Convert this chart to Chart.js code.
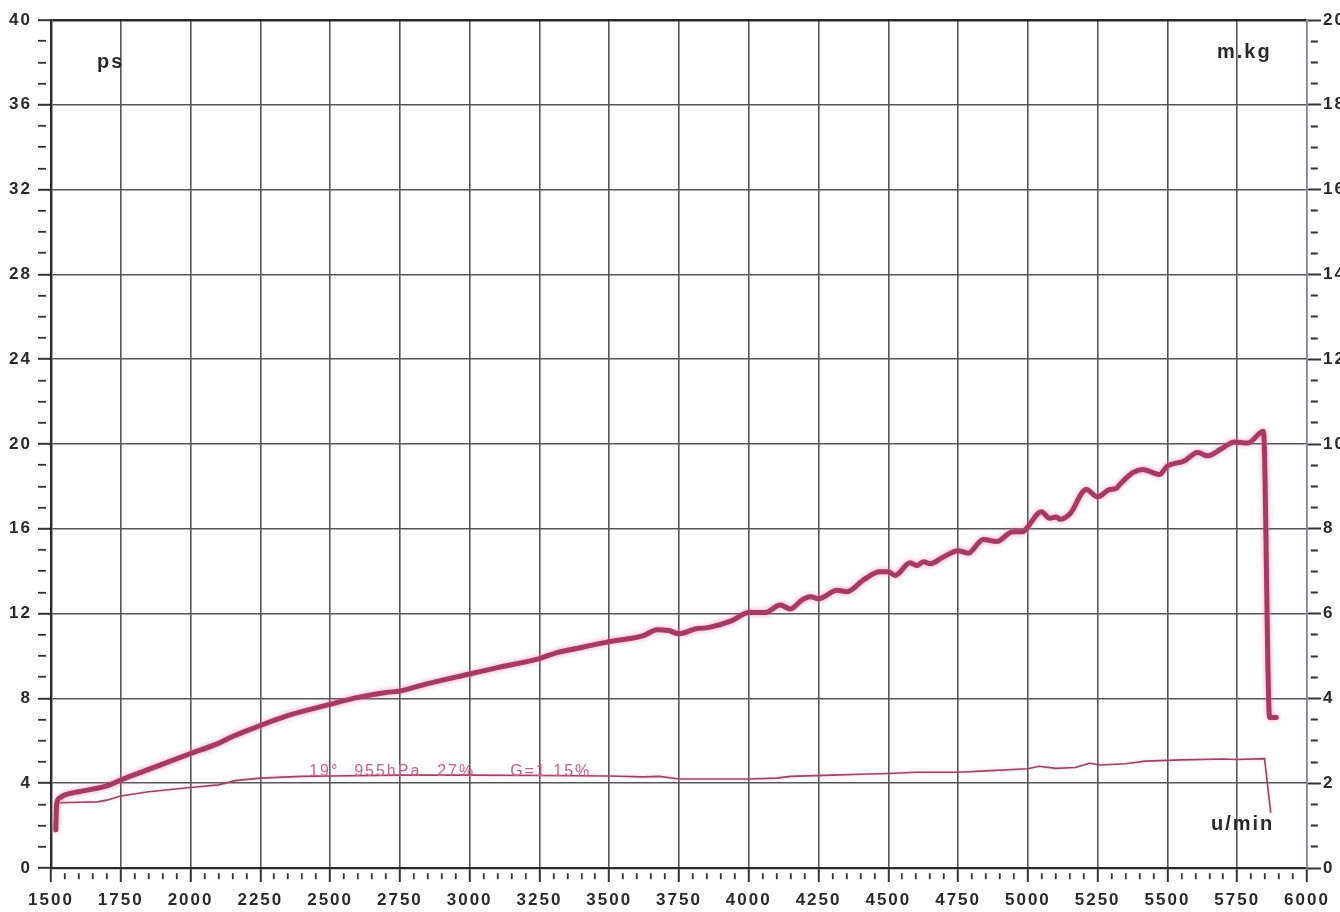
<!DOCTYPE html>
<html><head><meta charset="utf-8">
<script src="https://cdn.jsdelivr.net/npm/chart.js@4.4.0/dist/chart.umd.min.js"></script>
<style>html,body{margin:0;padding:0;background:#fff;overflow:hidden}#wrap{width:1340px;height:912px;position:relative;background:#fff}</style>
</head><body><div id="wrap"><canvas id="c" width="1340" height="912"></canvas></div>
<script>
// ---- data ----
const rpmPower = [1517,1520,1530,1550,1600,1650,1700,1750,1850,2000,2100,2150,2250,2350,2500,2600,2700,2750,2850,3000,3100,3250,3310,3400,3500,3620,3672,3713,3750,3810,3858,3940,4000,4059,4113,4149,4191,4220,4250,4316,4352,4412,4470,4500,4524,4578,4602,4626,4650,4697,4750,4786,4840,4888,4946,4982,5000,5048,5078,5102,5114,5150,5209,5250,5292,5316,5330,5376,5412,5447,5471,5500,5560,5608,5644,5692,5740,5788,5844,5866,5890];
const powerPs = [1.8,3.0,3.3,3.45,3.6,3.72,3.87,4.15,4.65,5.4,5.88,6.2,6.72,7.2,7.72,8.05,8.28,8.35,8.7,9.15,9.45,9.88,10.15,10.4,10.68,10.95,11.24,11.2,11.05,11.28,11.35,11.67,12.05,12.05,12.4,12.22,12.65,12.8,12.7,13.1,13.03,13.6,13.97,13.97,13.8,14.4,14.27,14.45,14.35,14.67,14.97,14.85,15.5,15.4,15.86,15.86,16.1,16.8,16.5,16.56,16.45,16.7,17.85,17.5,17.85,17.9,18.1,18.65,18.8,18.65,18.56,18.96,19.2,19.6,19.44,19.76,20.1,20.05,20.6,7.1,7.1];
const rpmTorque = [1529,1600,1667,1700,1750,1850,2000,2100,2160,2250,2400,2500,2750,3000,3250,3500,3620,3680,3750,4000,4100,4150,4300,4400,4500,4600,4750,4850,5000,5040,5100,5170,5220,5260,5350,5420,5550,5700,5750,5848,5870];
const torqueMkg = [1.54,1.55,1.56,1.6,1.7,1.8,1.9,1.96,2.06,2.12,2.16,2.17,2.19,2.19,2.18,2.17,2.15,2.16,2.1,2.1,2.12,2.16,2.19,2.21,2.23,2.26,2.26,2.29,2.34,2.4,2.35,2.37,2.47,2.43,2.46,2.52,2.55,2.57,2.56,2.58,1.3];
const xTickLabels = [1500,1750,2000,2250,2500,2750,3000,3250,3500,3750,4000,4250,4500,4750,5000,5250,5500,5750,6000];
const leftTickLabels = [0,4,8,12,16,20,24,28,32,36,40];
const rightTickLabels = [0,2,4,6,8,10,12,14,16,18,20];
const annotationParts = ['19°','955hPa','27%','G=1.15%'];
const unitTexts = ['ps','m.kg','u/min'];

const FONT = '"Liberation Sans", Arial, sans-serif';
const near = (v, arr) => arr.some(a => Math.abs(a - v) < 1e-6);

const spacingPlugin = {
  id: 'spacing',
  beforeLayout(chart){ chart.ctx.letterSpacing = '2px'; },
  beforeDraw(chart){
    const c = chart.ctx;
    c.save(); c.fillStyle = '#ffffff'; c.fillRect(0,0,chart.width,chart.height); c.restore();
    c.letterSpacing = '2px';
  },
  beforeDatasetDraw(chart, args){
    const c = chart.ctx;
    c.save();
    c.shadowColor = args.index === 0 ? 'rgba(235,120,160,0.75)' : 'rgba(235,140,170,0.5)';
    c.shadowBlur = args.index === 0 ? 5 : 3;
  },
  afterDatasetDraw(chart){ chart.ctx.restore(); }
};

const textPlugin = {
  id: 'texts',
  afterDraw(chart){
    const c = chart.ctx, a = chart.chartArea;
    const xs = chart.scales.x, yr = chart.scales.y2;
    c.save();
    c.letterSpacing = '2px';
    c.font = 'bold 20px ' + FONT;
    c.fillStyle = '#2a2a2a';
    c.textBaseline = 'alphabetic';
    c.textAlign = 'left';
    c.fillText(unitTexts[0], a.left + 46, a.top + 48);
    c.fillText(unitTexts[1], a.right - 90, a.top + 38);
    c.fillText(unitTexts[2], a.right - 96, a.bottom - 38);
    // condition annotation
    c.letterSpacing = '2px';
    c.font = '16px ' + FONT;
    c.fillStyle = '#c9608c';
    const y = yr.getPixelForValue(2.17);
    const offs = [0, 45, 128, 201];
    const x0 = xs.getPixelForValue(2425);
    annotationParts.forEach((t, i) => c.fillText(t, x0 + offs[i], y));
    c.restore();
  }
};

const tickCol = '#333333';
const gridCol = '#565656';
const tickFont = {family: FONT, size: 17, weight: 'bold'};

new Chart(document.getElementById('c'), {
  type: 'line',
  data: {
    datasets: [
      {
        label: 'ps',
        data: rpmPower.map((r, i) => ({x: r, y: powerPs[i]})),
        borderColor: '#a53a63',
        borderWidth: 5,
        pointRadius: 0,
        cubicInterpolationMode: 'monotone',
        yAxisID: 'y',
        borderCapStyle: 'round',
        borderJoinStyle: 'round'
      },
      {
        label: 'm.kg',
        data: rpmTorque.map((r, i) => ({x: r, y: torqueMkg[i]})),
        borderColor: '#9c4468',
        borderWidth: 1.6,
        pointRadius: 0,
        tension: 0,
        yAxisID: 'y2'
      }
    ]
  },
  options: {
    responsive: false,
    animation: false,
    devicePixelRatio: 1,
    layout: {padding: {top: 20, left: 0, right: 0, bottom: 0}},
    plugins: {legend: {display: false}, tooltip: {enabled: false}},
    scales: {
      x: {
        type: 'linear', position: 'bottom', min: 1500, max: 6000,
        afterFit(s){ s.height = 44; },
        ticks: {
          stepSize: 50, autoSkip: false, maxRotation: 0, padding: 8,
          color: '#2a2a2a', font: tickFont,
          callback: v => near(v, xTickLabels) ? String(v) : ''
        },
        grid: {
          tickLength: 14,
          color: ctx => {
            const v = ctx.tick ? ctx.tick.value : 0;
            if (v === 1500 || v === 6000) return 'rgba(0,0,0,0)';
            return near(v, xTickLabels) ? gridCol : 'rgba(0,0,0,0)';
          },
          lineWidth: 1.6,
          tickColor: tickCol,
          tickWidth: ctx => (ctx.tick && near(ctx.tick.value, xTickLabels)) ? 2 : 1.8,
          tickBorderDash: ctx => (ctx.tick && near(ctx.tick.value, xTickLabels)) ? [] : [0, 4, 6, 100]
        },
        border: {display: true, color: '#2a2a2a', width: 2.2}
      },
      y: {
        type: 'linear', position: 'left', min: 0, max: 40,
        afterFit(s){ s.width = 51; },
        ticks: {
          stepSize: 1, autoSkip: false, padding: 6,
          color: '#2a2a2a', font: tickFont,
          callback: v => near(v, leftTickLabels) ? String(v) : ''
        },
        grid: {
          tickLength: 13,
          color: ctx => {
            const v = ctx.tick ? ctx.tick.value : 0;
            if (v === 0) return 'rgba(0,0,0,0)';
            if (v === 40) return '#2a2a2a';
            return near(v, leftTickLabels) ? gridCol : 'rgba(0,0,0,0)';
          },
          lineWidth: ctx => (ctx.tick && ctx.tick.value === 40) ? 2.4 : 1.6,
          tickColor: tickCol,
          tickWidth: ctx => (ctx.tick && near(ctx.tick.value, leftTickLabels)) ? 2 : 1.8,
          tickBorderDash: ctx => (ctx.tick && near(ctx.tick.value, leftTickLabels)) ? [] : [8, 100]
        },
        border: {display: true, color: '#2a2a2a', width: 2.4}
      },
      y2: {
        type: 'linear', position: 'right', min: 0, max: 20,
        afterFit(s){ s.width = 33; },
        ticks: {
          stepSize: 0.5, autoSkip: false, padding: 2,
          color: '#2a2a2a', font: tickFont,
          callback: v => near(v, rightTickLabels) ? String(v) : ''
        },
        grid: {
          drawOnChartArea: false,
          tickLength: 14,
          tickColor: tickCol,
          tickWidth: ctx => (ctx.tick && near(ctx.tick.value, rightTickLabels)) ? 2 : 1.8,
          tickBorderDash: ctx => (ctx.tick && near(ctx.tick.value, rightTickLabels)) ? [] : [0, 3, 7, 100]
        },
        border: {display: true, color: '#7f7f9e', width: 1.8}
      }
    }
  },
  plugins: [spacingPlugin, textPlugin]
});
</script></body></html>
